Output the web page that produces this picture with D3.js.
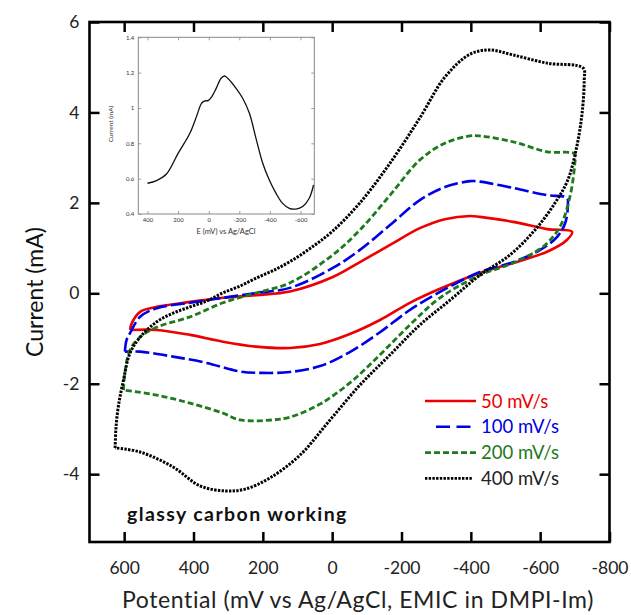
<!DOCTYPE html>
<html>
<head>
<meta charset="utf-8">
<script src="https://cdn.jsdelivr.net/npm/d3@7"></script>
<style>
  body { margin: 0; background: #fff; }
  text { font-family: Lato, "Open Sans", sans-serif; }
</style>
</head>
<body>
<svg id="chart" width="631" height="615"></svg>
<script>
// x ticks, y ticks
var xTicks = [600, 400, 200, 0, -200, -400, -600, -800]
var yTicks = [6, 4, 2, 0, -2, -4]

// cyclic voltammograms, [potential mV, current mA]
var cv50 = [[583,-0.81],[578,-0.66],[554,-0.41],[506,-0.30],[410,-0.19],[315,-0.10],[218,-0.04],[122,0.04],
  [-2,0.36],[-80,0.69],[-167,1.07],[-253,1.44],[-325,1.64],[-398,1.71],[-426,1.69],[-522,1.58],[-620,1.42],[-692,1.36],
  [-677,1.18],[-620,0.92],[-522,0.67],[-426,0.45],[-311,0.10],[-224,-0.21],[-138,-0.59],[-51,-0.90],[35,-1.12],
  [122,-1.21],[218,-1.18],[315,-1.07],[410,-0.92],[506,-0.81],[583,-0.81]]
var cv100 = [[598,-1.29],[593,-1.03],[583,-0.88],[554,-0.52],[506,-0.33],[410,-0.21],[315,-0.10],[218,0.01],[122,0.12],
  [-2,0.56],[-80,0.96],[-167,1.51],[-253,2.06],[-325,2.35],[-398,2.48],[-426,2.47],[-522,2.33],[-620,2.17],[-677,2.11],
  [-680,1.95],[-672,1.55],[-649,1.25],[-600,0.96],[-522,0.69],[-426,0.47],[-311,0.03],[-224,-0.37],[-138,-0.86],
  [-51,-1.30],[35,-1.61],[122,-1.74],[200,-1.76],[266,-1.73],[362,-1.54],[459,-1.40],[554,-1.29],[598,-1.29]]
var cv200 = [[602,-2.14],[598,-1.76],[583,-1.25],[554,-0.97],[506,-0.75],[410,-0.52],[315,-0.21],[218,0.01],[122,0.23],
  [-2,0.85],[-80,1.40],[-167,2.17],[-253,2.95],[-325,3.32],[-398,3.48],[-426,3.48],[-522,3.35],[-620,3.13],[-700,3.08],
  [-700,2.88],[-686,2.14],[-657,1.47],[-608,1.03],[-522,0.67],[-426,0.40],[-311,-0.10],[-224,-0.70],[-138,-1.36],
  [-51,-1.98],[35,-2.45],[122,-2.74],[171,-2.80],[266,-2.80],[315,-2.65],[410,-2.43],[506,-2.25],[602,-2.14]]
var cv400 = [[626,-3.42],[624,-3.02],[617,-2.51],[602,-1.92],[583,-1.32],[554,-0.97],[506,-0.63],[459,-0.44],[410,-0.30],
  [362,-0.17],[315,0.01],[266,0.16],[218,0.34],[171,0.50],[122,0.70],[64,0.99],[-2,1.38],[-80,2.00],[-167,2.88],
  [-253,3.88],[-325,4.78],[-398,5.29],[-455,5.38],[-522,5.27],[-620,5.09],[-724,4.98],
  [-727,4.72],[-721,3.99],[-706,3.26],[-680,2.51],[-643,2.00],[-585,1.40],[-513,0.85],[-426,0.40],
  [-340,-0.15],[-253,-0.70],[-167,-1.36],[-80,-2.03],[6,-2.80],[93,-3.58],[179,-4.08],[251,-4.33],[309,-4.37],
  [381,-4.26],[459,-3.84],[554,-3.51],[626,-3.42]]

var seriesNames = ["50 mV/s", "100 mV/s", "200 mV/s", "400 mV/s"]
var seriesData = [cv50, cv100, cv200, cv400]

// inset: differential curve
var insetE = [400, 341, 276, 200, 123, 80, 47, 25, 4, -17, -49, -81, -103, -124, -179, -222, -266, -309, -353, -396, -440, -483, -527, -570, -614, -657, -685]
var insetI = [0.574, 0.589, 0.626, 0.743, 0.857, 0.951, 1.026, 1.04, 1.042, 1.06, 1.111, 1.168, 1.181, 1.168, 1.111, 1.055, 0.97, 0.828, 0.687, 0.592, 0.517, 0.46, 0.432, 0.428, 0.442, 0.489, 0.564]
var insetXTicks = [400, 200, 0, -200, -400, -600]
var insetYTicks = [0.4, 0.6, 0.8, 1, 1.2, 1.4]

var colors = ["#ee0000", "#0000e6", "#1d7a1d", "#000000"]
var dashes = [null, "14,4", "6,3", "2.4,1.3"]
var widths = [2.6, 2.6, 2.8, 3]

var svg = d3.select("#chart")

var x = d3.scaleLinear().domain([700, -800]).range([89.5, 609.5])
var y = d3.scaleLinear().domain([-5.5, 6]).range([542, 22])

var line = d3.line()
  .x(function(d) { return x(d[0]) })
  .y(function(d) { return y(d[1]) })
  .curve(d3.curveCatmullRom.alpha(0.5))

svg.selectAll(".cv")
  .data(seriesData)
  .enter().append("path")
  .attr("class", "cv")
  .attr("d", line)
  .attr("fill", "none")
  .attr("stroke", function(d, i) { return colors[i] })
  .attr("stroke-width", function(d, i) { return widths[i] })
  .attr("stroke-dasharray", function(d, i) { return dashes[i] })

// axes with inward ticks
var fmt = function(d) { return d }
svg.append("g")
  .attr("transform", "translate(0," + y(-5.5) + ")")
  .call(d3.axisBottom(x).tickValues(xTicks).tickSizeInner(-10).tickSizeOuter(0).tickPadding(20).tickFormat(fmt))
  .call(function(g) { g.select(".domain").remove() })
  .selectAll("text").attr("font-size", 17.5).attr("fill", "#222")
svg.append("g")
  .attr("transform", "translate(0," + y(6) + ")")
  .call(d3.axisTop(x).tickValues(xTicks).tickSizeInner(-10).tickSizeOuter(0).tickFormat(""))
  .call(function(g) { g.select(".domain").remove() })
svg.append("g")
  .attr("transform", "translate(" + x(700) + ",0)")
  .call(d3.axisLeft(y).tickValues(yTicks).tickSizeInner(-10).tickSizeOuter(0).tickPadding(10).tickFormat(fmt))
  .call(function(g) { g.select(".domain").remove() })
  .selectAll("text").attr("font-size", 17.5).attr("fill", "#222")
svg.append("g")
  .attr("transform", "translate(" + x(-800) + ",0)")
  .call(d3.axisRight(y).tickValues(yTicks).tickSizeInner(-10).tickSizeOuter(0).tickFormat(""))
  .call(function(g) { g.select(".domain").remove() })
svg.selectAll(".tick line").attr("stroke", "#000").attr("stroke-width", 2.5)

svg.append("rect")
  .attr("x", x(700)).attr("y", y(6))
  .attr("width", x(-800) - x(700)).attr("height", y(-5.5) - y(6))
  .attr("fill", "none").attr("stroke", "#000").attr("stroke-width", 2.6)

svg.append("text")
  .attr("x", 358).attr("y", 608)
  .attr("text-anchor", "middle").attr("font-size", 23).attr("letter-spacing", 0.6).attr("fill", "#222")
  .text("Potential (mV vs Ag/AgCl, EMIC in DMPI-Im)")
svg.append("text")
  .attr("transform", "translate(43,292) rotate(-90)")
  .attr("text-anchor", "middle").attr("font-size", 23).attr("fill", "#111")
  .text("Current (mA)")

svg.append("text")
  .attr("x", 127).attr("y", 521)
  .attr("font-size", 19.5).attr("font-weight", "bold").attr("letter-spacing", 1.4).attr("fill", "#111")
  .text("glassy carbon working")

// legend
var legend = svg.append("g")
  .selectAll("g")
  .data(seriesNames)
  .enter().append("g")
  .attr("transform", function(d, i) { return "translate(0," + (401 + i * 25.8) + ")" })
legend.append("line")
  .attr("x1", function(d, i) { return i == 1 ? 436 : 425 })
  .attr("x2", function(d, i) { return i == 3 ? 472 : 476 })
  .attr("stroke", function(d, i) { return colors[i] })
  .attr("stroke-width", 2.6)
  .attr("stroke-dasharray", function(d, i) { return i == 1 ? "14,6.5" : dashes[i] })
legend.append("text")
  .attr("x", 481).attr("dy", "0.36em")
  .attr("font-size", 18.5)
  .attr("fill", function(d, i) { return i == 3 ? "#222" : colors[i] })
  .text(function(d) { return d })

// inset
var xi = d3.scaleLinear().domain([460, -690]).range([138.3, 314.3])
var yi = d3.scaleLinear().domain([0.4, 1.4]).range([214, 37.3])
var inset = svg.append("g")
inset.append("rect")
  .attr("x", xi(460)).attr("y", yi(1.4))
  .attr("width", xi(-690) - xi(460)).attr("height", yi(0.4) - yi(1.4))
  .attr("fill", "#fff").attr("stroke", "#888").attr("stroke-width", 1)

inset.append("g")
  .attr("transform", "translate(0," + yi(0.4) + ")")
  .call(d3.axisBottom(xi).tickValues(insetXTicks).tickSizeInner(-3).tickSizeOuter(0).tickPadding(4).tickFormat(fmt))
  .call(function(g) { g.select(".domain").remove() })
inset.append("g")
  .attr("transform", "translate(0," + yi(1.4) + ")")
  .call(d3.axisTop(xi).tickValues(insetXTicks).tickSizeInner(-3).tickSizeOuter(0).tickFormat(""))
  .call(function(g) { g.select(".domain").remove() })
inset.append("g")
  .attr("transform", "translate(" + xi(460) + ",0)")
  .call(d3.axisLeft(yi).tickValues(insetYTicks).tickSizeInner(-3).tickSizeOuter(0).tickPadding(4).tickFormat(fmt))
  .call(function(g) { g.select(".domain").remove() })
inset.append("g")
  .attr("transform", "translate(" + xi(-690) + ",0)")
  .call(d3.axisRight(yi).tickValues(insetYTicks).tickSizeInner(-3).tickSizeOuter(0).tickFormat(""))
  .call(function(g) { g.select(".domain").remove() })
inset.selectAll(".tick line").attr("stroke", "#888").attr("stroke-width", 0.8)
inset.selectAll(".tick text").attr("font-size", 6).attr("fill", "#333")

var insetLine = d3.line()
  .x(function(d, i) { return xi(insetE[i]) })
  .y(function(d) { return yi(d) })
  .curve(d3.curveCatmullRom.alpha(0.5))
inset.append("path")
  .attr("d", insetLine(insetI))
  .attr("fill", "none").attr("stroke", "#111").attr("stroke-width", 1.3)

inset.append("text")
  .attr("x", 226).attr("y", 234)
  .attr("text-anchor", "middle").attr("font-size", 7.5).attr("fill", "#333")
  .text("E (mV) vs Ag/AgCl")
inset.append("text")
  .attr("transform", "translate(113,124) rotate(-90)")
  .attr("text-anchor", "middle").attr("font-size", 6.5).attr("fill", "#333")
  .text("Current (mA)")
</script>
</body>
</html>
